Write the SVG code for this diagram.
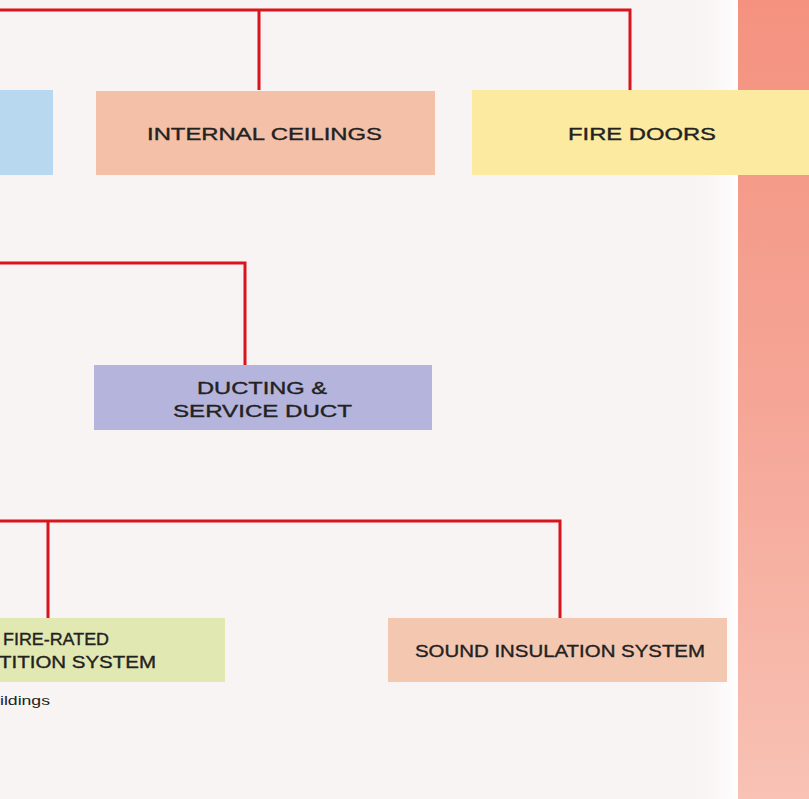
<svg xmlns="http://www.w3.org/2000/svg" width="809" height="799" viewBox="0 0 809 799">
<defs>
<linearGradient id="strip" x1="0" y1="0" x2="0" y2="1">
<stop offset="0" stop-color="#f4927f"/>
<stop offset="0.5" stop-color="#f5a596"/>
<stop offset="1" stop-color="#f8c2b4"/>
</linearGradient>
<linearGradient id="glow" x1="0" y1="0" x2="1" y2="0">
<stop offset="0" stop-color="#f8f4f4" stop-opacity="0"/>
<stop offset="1" stop-color="#ffffff"/>
</linearGradient>
</defs>
<style>
.line{fill:none;stroke:#d8141c;stroke-width:3}
.lbl{font-family:"Liberation Sans",Arial,sans-serif;font-size:16.5px;fill:#222;stroke:#222;stroke-width:0.35}
.sm{font-family:"Liberation Sans",Arial,sans-serif;font-size:13px;fill:#222}
</style>
<rect x="0" y="0" width="809" height="799" fill="#f8f4f4"/>
<rect x="690" y="0" width="48" height="799" fill="url(#glow)"/>
<rect x="738" y="0" width="71" height="799" fill="url(#strip)"/>
<g id="connectors">
<path class="line" d="M0 10 H630 V90 M259 10 V90"/>
<path class="line" d="M0 263 H245 V365"/>
<path class="line" d="M0 521 H560 V618 M48 521 V618"/>
</g>
<g id="node-blue"><rect x="0" y="90" width="53" height="85" fill="#b8d8f0"/></g>
<g id="node-internal-ceilings">
<rect x="96" y="91" width="339" height="84" fill="#f4c0a8"/>
<text class="lbl" x="147" y="140" textLength="235" lengthAdjust="spacingAndGlyphs">INTERNAL CEILINGS</text>
</g>
<g id="node-fire-doors">
<rect x="472" y="90" width="337" height="85" fill="#fbeaa0"/>
<text class="lbl" x="568" y="140" textLength="148" lengthAdjust="spacingAndGlyphs">FIRE DOORS</text>
</g>
<g id="node-ducting">
<rect x="94" y="365" width="338" height="65" fill="#b4b4dc"/>
<text class="lbl" x="197" y="394" textLength="130" lengthAdjust="spacingAndGlyphs">DUCTING &amp;</text>
<text class="lbl" x="173" y="417" textLength="179" lengthAdjust="spacingAndGlyphs">SERVICE DUCT</text>
</g>
<g id="node-partition">
<rect x="0" y="618" width="225" height="64" fill="#e2e8b2"/>
<text class="lbl" x="3" y="645" textLength="106" lengthAdjust="spacingAndGlyphs">FIRE-RATED</text>
<text class="lbl" x="-1" y="668" textLength="157" lengthAdjust="spacingAndGlyphs">TITION SYSTEM</text>
</g>
<text class="sm" x="0" y="705" textLength="50" lengthAdjust="spacingAndGlyphs">ildings</text>
<g id="node-sound">
<rect x="388" y="618" width="339" height="64" fill="#f4c8b0"/>
<text class="lbl" x="415" y="657" textLength="290" lengthAdjust="spacingAndGlyphs">SOUND INSULATION SYSTEM</text>
</g>
</svg>
